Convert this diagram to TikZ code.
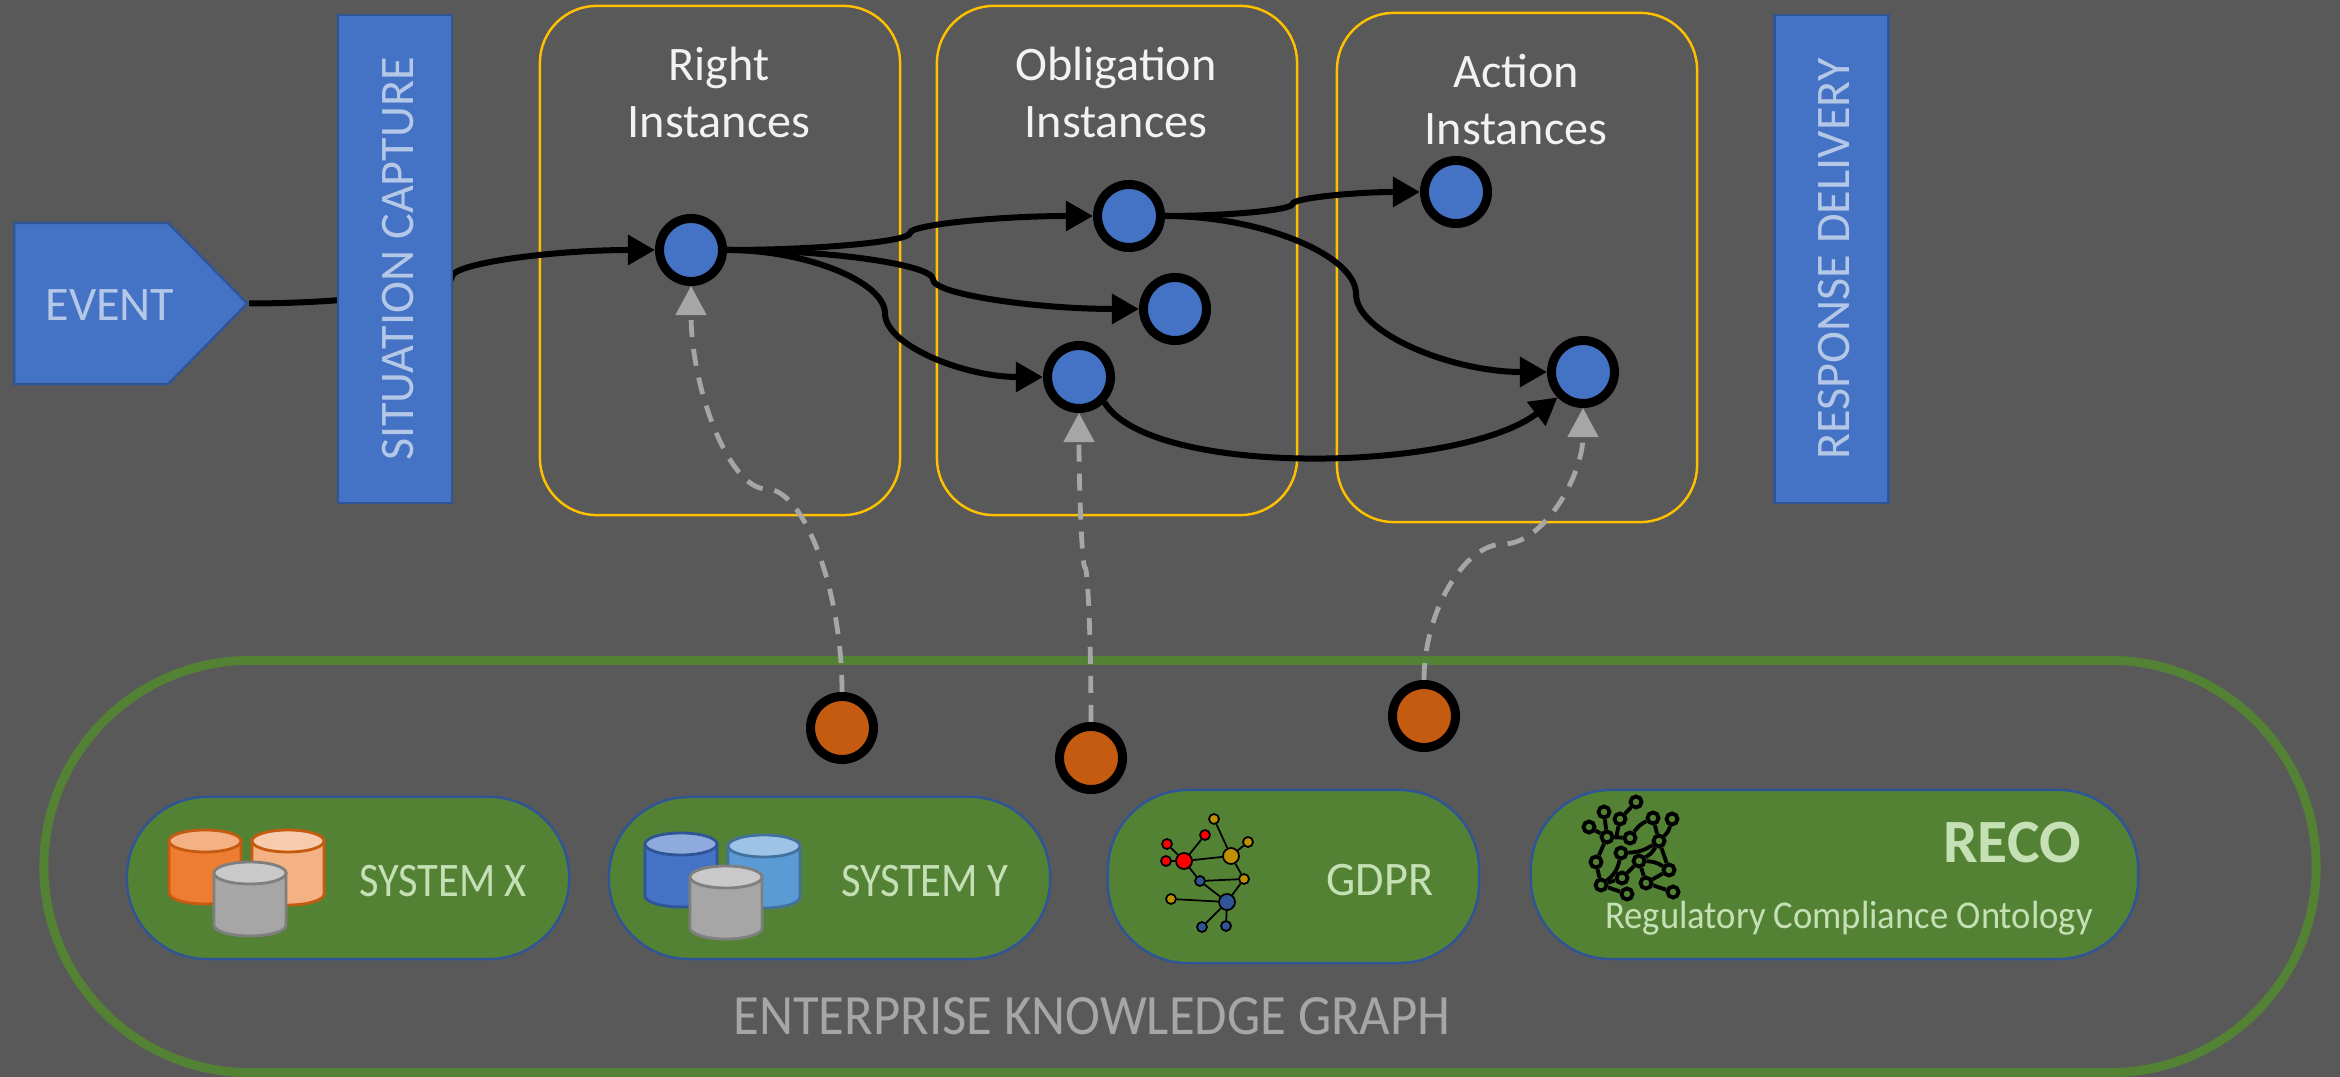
\documentclass[tikz,border=0pt]{standalone}
\usepackage{fontspec}
\setmainfont{Carlito}
\usepackage{tikz}
\usetikzlibrary{arrows.meta}
\usetikzlibrary{calc}
\usetikzlibrary{shapes.symbols}
\definecolor{slate}{HTML}{595959}
\definecolor{hpblue}{HTML}{4472C4}
\definecolor{navy}{HTML}{2F5597}
\definecolor{leaf}{HTML}{548235}
\definecolor{amber}{HTML}{FFC000}
\definecolor{rust}{HTML}{C55A11}
\definecolor{ash}{HTML}{A6A6A6}
\definecolor{gold}{HTML}{BF9000}
\definecolor{mint}{HTML}{C5E0B4}
\definecolor{sky}{HTML}{B4C7E7}
\definecolor{orng}{HTML}{ED7D31}
\definecolor{peach}{HTML}{F4B183}
\definecolor{cream}{HTML}{F8CBAD}
\definecolor{silver}{HTML}{C9C9C9}
\definecolor{steel}{HTML}{7F7F7F}
\definecolor{cobalt}{HTML}{8FAADC}
\definecolor{azure}{HTML}{5B9BD5}
\definecolor{pale}{HTML}{9DC3E6}
\definecolor{denim}{HTML}{41719C}
\tikzset{
  lbl/.style={inner sep=0,font=\fontsize{13.7}{16.2}\selectfont},
  bar/.style={lbl,rectangle,draw=navy,fill=hpblue,line width=.7pt,text=sky,text height=.37cm,minimum width=4.88cm,minimum height=1.14cm},
  inst/.style={rectangle,draw=amber,line width=.7pt,rounded corners=.57cm,minimum width=3.6cm,minimum height=5.09cm},
  head/.style={lbl,align=center,text=white!92!slate},
  pill/.style={rectangle,draw=navy,fill=leaf,line width=.7pt,rounded corners=.8cm},
  sysl/.style={lbl,text=mint},
  item/.style={circle,draw=black,fill=hpblue,line width=.09cm,inner sep=0,minimum size=.63cm},
  seed/.style={item,fill=rust},
  flow/.style={draw=black,line width=.06cm,-{Triangle[length=.27cm,width=.29cm]}},
  feed/.style={draw=ash,line width=.048cm,dash pattern=on .17cm off .12cm,-{Triangle[length=.29cm,width=.3cm]}},
  gd/.style={circle,draw=black,line width=.5pt,inner sep=0,minimum size=.1cm},
  gD/.style={gd,minimum size=.16cm},
  gl/.style={draw=black,line width=.5pt},
  rg/.style={circle,draw=black,line width=1.1pt,inner sep=0,minimum size=.11cm},
  rl/.style={draw=black,line width=1.1pt}
}
\newcommand{\hcurve}[3]{\draw[#1] #2 let \p1=#2, \p2=#3, \n1={(\x1+\x2)/2}, \n2={(\y1+\y2)/2} in .. controls ({(\x1+\n1)/2},\y1) and (\n1,{(3*\y1+\y2)/4}) .. (\n1,\n2) .. controls (\n1,{(\y1+3*\y2)/4}) and ({(\n1+\x2)/2},\y2) .. #3;}
\newcommand{\vcurve}[3]{\draw[#1] #2 let \p1=#2, \p2=#3, \n1={(\x1+\x2)/2}, \n2={(\y1+\y2)/2} in .. controls (\x1,{(\y1+\n2)/2}) and ({(3*\x1+\x2)/4},\n2) .. (\n1,\n2) .. controls ({(\x1+3*\x2)/4},\n2) and (\x2,{(\n2+\y2)/2}) .. #3;}
\newcommand{\dbcyl}[6]{
\draw[draw=#6,fill=#4,line width=.8pt] ({#1-36},{#2+11}) -- ({#1-36},{#3-11}) arc[start angle=180,end angle=360,x radius=.36cm,y radius=.11cm] -- ({#1+36},{#2+11}) -- cycle;
\draw[draw=#6,fill=#5,line width=.8pt] ({#1},{#2+11}) ellipse[x radius=.36cm,y radius=.11cm];
}
\begin{document}
\begin{tikzpicture}[x=.01cm,y=-.01cm]
\path[use as bounding box,fill=slate] (0,0) rectangle (2340,1077);

\node[rectangle,draw=leaf,line width=.09cm,rounded corners=2.06cm,minimum width=22.71cm,minimum height=4.12cm] (EKG) at (1180,866.5) {};
\node[lbl,text=ash,font=\fontsize{16.2}{19}\selectfont] (EKGL) at (1092,1016) {\scalebox{.925}[1]{ENTERPRISE KNOWLEDGE GRAPH}};

\node[pill,minimum width=4.42cm,minimum height=1.62cm] (SX) at (348,878) {};
\node[pill,minimum width=4.41cm,minimum height=1.62cm] (SY) at (829.5,878) {};
\node[pill,minimum width=3.71cm,minimum height=1.73cm] (GD) at (1293.5,876.5) {};
\node[pill,minimum width=6.07cm,minimum height=1.69cm] (RC) at (1834.5,874.5) {};

\node[lbl,sysl] (SXL) at (443,881) {\scalebox{.88}[1]{SYSTEM X}};
\node[lbl,sysl] (SYL) at (925,881) {\scalebox{.885}[1]{SYSTEM Y}};
\node[lbl,sysl] (GDL) at (1380,880) {\scalebox{.96}[1]{GDPR}};
\node[lbl,sysl,font=\fontsize{17.5}{20}\selectfont\bfseries] (RCL) at (2012,843) {RECO};
\node[lbl,sysl,font=\fontsize{11.2}{13}\selectfont] (RCS) at (1849,918) {\scalebox{.93}[1]{Regulatory Compliance Ontology}};

\dbcyl{205}{830}{904}{orng}{peach}{rust}
\dbcyl{288}{830}{905}{peach}{cream}{rust}
\dbcyl{250}{862}{936}{ash}{silver}{steel}
\dbcyl{681}{833}{907}{hpblue}{cobalt}{navy}
\dbcyl{764}{835}{908}{azure}{pale}{denim}
\dbcyl{726}{866}{939}{ash}{silver}{steel}

\node[gd,fill=gold] (G1) at (1214,819) {};
\node[gd,fill=gold] (G2) at (1248,842) {};
\node[gD,fill=gold] (G3) at (1231,856) {};
\node[gd,fill=gold] (G4) at (1244,879) {};
\node[gd,fill=gold] (G5) at (1171,899) {};
\node[gd,fill=red] (P1) at (1205,835) {};
\node[gd,fill=red] (P2) at (1167,844) {};
\node[gd,fill=red] (P3) at (1166,861) {};
\node[gD,fill=red] (P4) at (1184,861) {};
\node[gd,fill=navy] (B1) at (1200,881) {};
\node[gD,fill=navy] (B2) at (1227,902) {};
\node[gd,fill=navy] (B3) at (1202,927) {};
\node[gd,fill=navy] (B4) at (1226,926) {};
\draw[gl] (G1) -- (G3);
\draw[gl] (G2) -- (G3);
\draw[gl] (P4) -- (G3);
\draw[gl] (G3) -- (G4);
\draw[gl] (P1) -- (P4);
\draw[gl] (P2) -- (P4);
\draw[gl] (P3) -- (P4);
\draw[gl] (P4) -- (B1);
\draw[gl] (B1) -- (G4);
\draw[gl] (B1) -- (B2);
\draw[gl] (G4) -- (B2);
\draw[gl] (G5) -- (B2);
\draw[gl] (B2) -- (B3);
\draw[gl] (B2) -- (B4);

\node[rg] (N1) at (1636,802) {};
\node[rg] (N2) at (1604,812) {};
\node[rg] (N3) at (1620,819) {};
\node[rg] (N4) at (1653,818) {};
\node[rg] (N5) at (1672,819) {};
\node[rg] (N6) at (1589,827) {};
\node[rg] (N7) at (1607,837) {};
\node[rg] (N8) at (1630,838) {};
\node[rg] (N9) at (1659,841) {};
\node[rg] (N10) at (1621,853) {};
\node[rg] (N11) at (1596,862) {};
\node[rg] (N12) at (1639,861) {};
\node[rg] (N13) at (1669,870) {};
\node[rg] (N14) at (1622,878) {};
\node[rg] (N15) at (1601,885) {};
\node[rg] (N16) at (1646,883) {};
\node[rg] (N17) at (1673,892) {};
\node[rg] (N18) at (1627,894) {};
\draw[rl] (N1) -- (N3);
\draw[rl] (N2) -- (N7);
\draw[rl] (N3) -- (1616,838);
\draw[rl] (N6) -- (N7);
\draw[rl] (N7) -- (N8);
\draw[rl] (N8) to[bend left=15] (N4);
\draw[rl] (N4) -- (N9);
\draw[rl] (N5) to[bend left=15] (N9);
\draw[rl] (N7) -- (N11);
\draw[rl] (N9) to[bend left=15] (N10);
\draw[rl] (N9) to[bend left=15] (N12);
\draw[rl] (N9) -- (N13);
\draw[rl] (N12) to[bend left=15] (N13);
\draw[rl] (N12) -- (N16);
\draw[rl] (N12) -- (N14);
\draw[rl] (N13) -- (N16);
\draw[rl] (N10) to[bend left=20] (N15);
\draw[rl] (N11) -- (N15);
\draw[rl] (N14) -- (N15);
\draw[rl] (N15) -- (N18);
\draw[rl] (N16) -- (N17);

\node[inst] (RI) at (720,260.5) {};
\node[inst] (OI) at (1117,260.5) {};
\node[inst] (AI) at (1517,267.5) {};
\node[head] (RIL) at (719,92) {Right\\Instances};
\node[head] (OIL) at (1116,92) {Obligation\\Instances};
\node[head] (AIL) at (1516,100) {Action\\Instances};

\node[item] (R1) at (691,250) {};
\node[item] (O1) at (1129,216) {};
\node[item] (O2) at (1175,309) {};
\node[item] (O3) at (1079,377) {};
\node[item] (A1) at (1456,192) {};
\node[item] (A2) at (1583,372) {};
\node[seed] (K1) at (842,728) {};
\node[seed] (K2) at (1091,758) {};
\node[seed] (K3) at (1424,716) {};

\node[signal,signal to=east,signal pointer angle=91,draw=navy,fill=hpblue,line width=.7pt,inner sep=0,minimum width=2.33cm,minimum height=1.61cm,anchor=west] (EV) at (13,303.5) {};
\node[lbl,text=sky] (EVL) at (110,305) {EVENT};

\hcurve{flow}{(EV.east)}{(R1.west)}
\hcurve{flow}{(R1.east)}{(O1.west)}
\hcurve{flow}{(R1.east)}{(O2.west)}
\hcurve{flow}{(R1.east)}{(O3.west)}
\hcurve{flow}{(O1.east)}{(A1.west)}
\hcurve{flow}{(O1.east)}{(A2.west)}
\draw[flow] (O3.-45) .. controls (1150,478) and (1460,473) .. (A2.-135);

\vcurve{feed}{(K1.north)}{(R1.south)}
\vcurve{feed}{(K2.north)}{(O3.south)}
\vcurve{feed}{(K3.north)}{(A2.south)}

\node[bar,rotate=90] (SC) at (395,259) {SITUATION CAPTURE};
\node[bar,rotate=90] (RD) at (1831.5,259) {RESPONSE DELIVERY};
\end{tikzpicture}
\end{document}
